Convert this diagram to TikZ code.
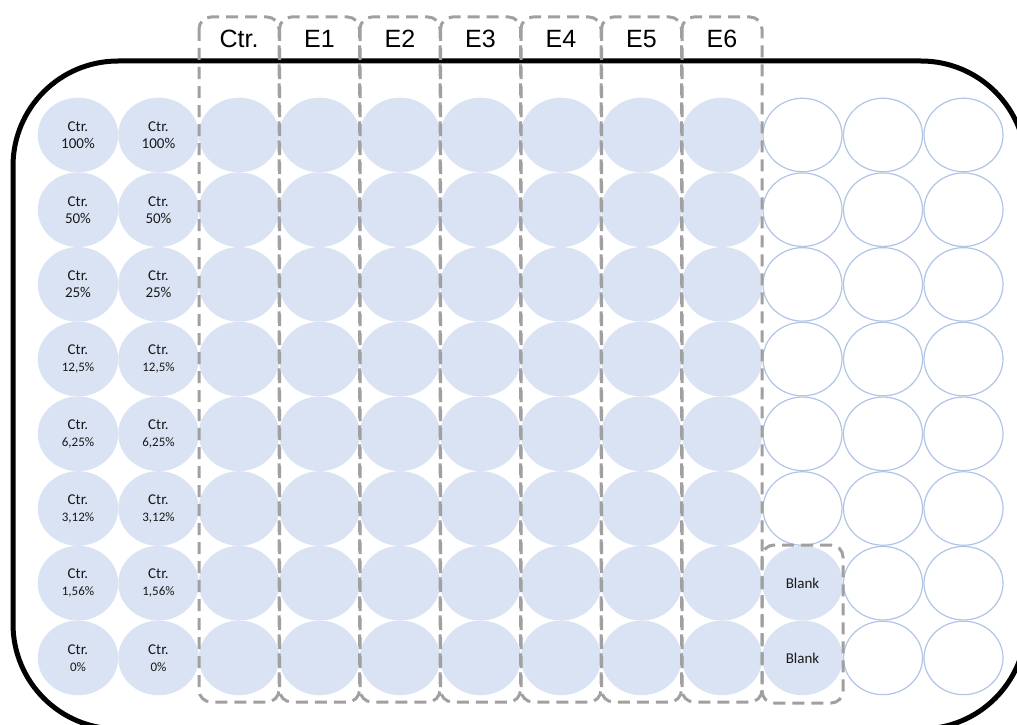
\documentclass[tikz,border=0pt]{standalone}
\usepackage{fontspec}
\setmainfont{Carlito}
\newfontfamily\headfont{Liberation Sans}
\usepackage{tikz}
\usetikzlibrary{shapes.geometric}
\usepackage{xcolor}
\definecolor{wellblue}{RGB}{218,227,243}
\definecolor{rimblue}{RGB}{176,196,230}
\definecolor{boxgray}{RGB}{160,160,160}

\begin{document}
\begin{tikzpicture}[x=1pt, y=-1pt, font=\fontsize{15}{18}\selectfont,
    well/.style={ellipse, fill=wellblue, minimum width=80.5pt, minimum height=74.7pt,
        inner sep=0pt, align=center, text=black!90},
    emptywell/.style={ellipse, draw=rimblue, line width=1.2pt, minimum width=79pt,
        minimum height=73.5pt, inner sep=0pt},
    groupbox/.style={draw=boxgray, line width=3pt, dash pattern=on 12pt off 7pt,
        rounded corners=12pt}]

                \useasboundingbox (0,0) rectangle (1017,725);

                % ===== PLATE OUTLINE =====
                \draw[line width=5pt, rounded corners=105pt] (13,61) rectangle (1026,729);

                % ===== CONTROL DILUTION WELLS (columns 1-2) =====
                \foreach \r/\pct/\sz in {1/{100\%}/15, 2/{50\%}/15, 3/{25\%}/15, 4/{12,5\%}/13,
                        5/{6,25\%}/13, 6/{3,12\%}/13, 7/{1,56\%}/13, 8/{0\%}/13} {
                    \foreach \c in {1,2}
                        \node[well] (w-\r-\c) at ({78+(\c-1)*80.5}, {135+(\r-1)*74.7})
                            {Ctr.\\[-1pt]{\fontsize{\sz}{15}\selectfont\pct}};
                }

                % ===== SAMPLE WELLS (columns 3-9) =====
                \foreach \r in {1,...,8}
                    \foreach \c in {3,...,9}
                        \node[well] (w-\r-\c) at ({78+(\c-1)*80.5}, {135+(\r-1)*74.7}) {};

                % ===== BLANK WELLS =====
                \foreach \r in {7,8}
                    \node[well] (w-\r-10) at ({78+9*80.5}, {135+(\r-1)*74.7}) {Blank};

                % ===== EMPTY WELLS =====
                \foreach \r in {1,...,6}
                    \node[emptywell] (w-\r-10) at ({78+9*80.5}, {135+(\r-1)*74.7}) {};
                \foreach \r in {1,...,8}
                    \foreach \c in {11,12}
                        \node[emptywell] (w-\r-\c) at ({78+(\c-1)*80.5}, {135+(\r-1)*74.7}) {};

                % ===== COLUMN GROUPS =====
                \foreach \c/\lab in {3/Ctr., 4/E1, 5/E2, 6/E3, 7/E4, 8/E5, 9/E6} {
                    \draw[groupbox] ({78+(\c-1)*80.5-40}, 17) rectangle ({78+(\c-1)*80.5+40}, 702);
                    \node[font=\headfont\fontsize{25}{30}\selectfont] (h-\c) at ({78+(\c-1)*80.5}, 39) {\lab};
                }
                % blank group
                \draw[groupbox] (762, 545) rectangle (843, 703);

\end{tikzpicture}
\end{document}
